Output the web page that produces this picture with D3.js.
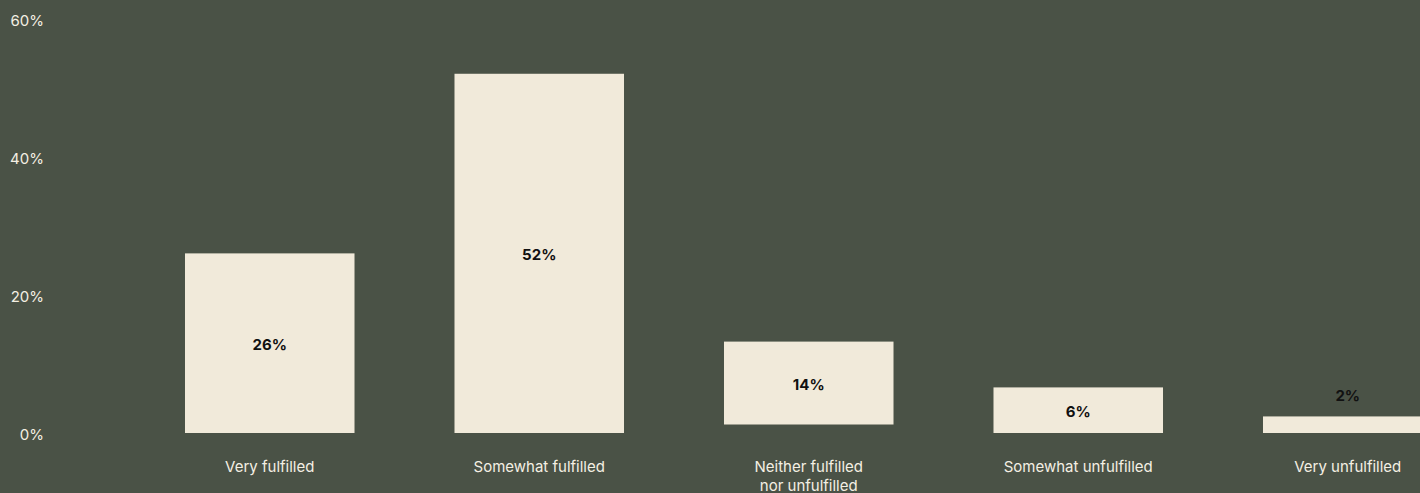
<html>
  <head>
    <script src="https://cdn.jsdelivr.net/npm/d3@7/dist/d3.min.js"></script>
    <style>
      body { margin: 0; background: #4a5246; overflow: hidden; }
      text { font-family: Inter, "Noto Sans", sans-serif; }
    </style>
  </head>
  <body>
    <div id="chart"></div>
    <script>
      // data
      const categories = [
        "Very fulfilled",
        "Somewhat fulfilled",
        "Neither fulfilled\nnor unfulfilled",
        "Somewhat unfulfilled",
        "Very unfulfilled",
      ];
      const barValues = [26, 52, 12, 6.6, 2.4]; // bar heights as drawn
      const barLabels = ["26%", "52%", "14%", "6%", "2%"];
      const yTicks = [0, 20, 40, 60];

      let width = 1420,
        height = 493;

      let svg = d3
        .select("#chart")
        .append("svg")
        .attr("width", width)
        .attr("height", height);

      let x = d3
        .scaleBand()
        .domain(categories)
        .range([135, 1482.5])
        .paddingInner(0.371)
        .paddingOuter(0.1855);

      let y = d3.scaleLinear().domain([0, 60]).range([433, 18.5]);

      // y axis, labels only
      let yAxis = d3
        .axisLeft(y)
        .tickValues(yTicks)
        .tickSize(0)
        .tickPadding(0)
        .tickFormat((d) => d + "%");
      let yAxisGroup = svg
        .append("g")
        .attr("transform", "translate(44,2)")
        .call(yAxis);
      yAxisGroup.select(".domain").remove();
      yAxisGroup
        .selectAll("text")
        .attr("fill", "#f4efe3")
        .style("font-size", "15px")
        .style("font-family", "Inter, 'Noto Sans', sans-serif");

      let rows = categories.map((c, i) => ({
        cat: c,
        value: barValues[i],
        label: barLabels[i],
        lines: c.split("\n"),
      }));

      // two-line category labels lift their bar a little
      const lift = (d) => (d.lines.length - 1) * 8.5;

      let groups = svg.selectAll(".bar").data(rows).enter().append("g");

      groups
        .append("rect")
        .attr("x", (d) => x(d.cat))
        .attr("width", x.bandwidth())
        .attr("y", (d) => y(d.value) - lift(d))
        .attr("height", (d) => y(0) - y(d.value))
        .attr("fill", "#f1eada");

      groups
        .append("text")
        .attr("x", (d) => x(d.cat) + x.bandwidth() / 2)
        .attr("y", (d) => {
          let top = y(d.value) - lift(d);
          let h = y(0) - y(d.value);
          return h > 30 ? top + h / 2 + 1.5 : top - 21;
        })
        .attr("dy", "0.35em")
        .attr("text-anchor", "middle")
        .attr("fill", "#111")
        .style("font-size", "15px")
        .style("font-weight", "700")
        .text((d) => d.label);

      // category labels
      let catText = groups
        .append("text")
        .attr("text-anchor", "middle")
        .attr("fill", "#f4efe3")
        .style("font-size", "15px");
      catText
        .selectAll("tspan")
        .data((d) => d.lines.map((l) => ({ l: l, d: d })))
        .enter()
        .append("tspan")
        .attr("x", (t) => x(t.d.cat) + x.bandwidth() / 2)
        .attr("y", (t, i) => 467 + i * 19)
        .attr("dy", "0.35em")
        .text((t) => t.l);
    </script>
  </body>
</html>
